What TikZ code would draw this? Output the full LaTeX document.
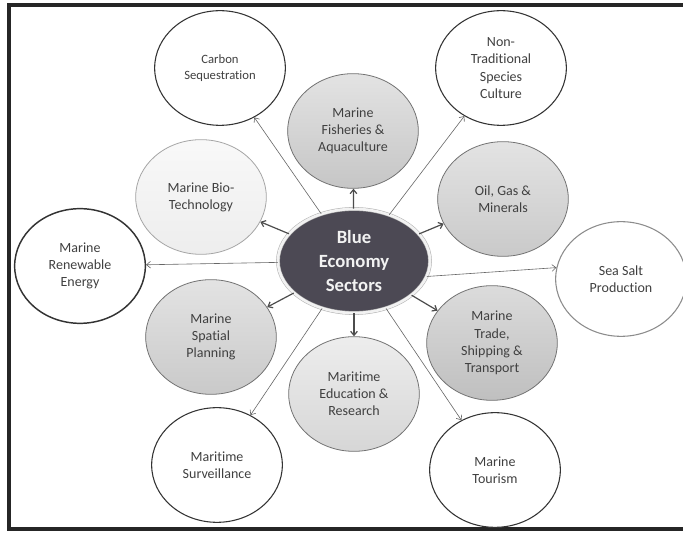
\documentclass[tikz,border=0pt]{standalone}
\usepackage{fontspec}
\setmainfont{Carlito}[Ligatures=NoCommon]
\usepackage{xcolor}
\usetikzlibrary{arrows.meta, shapes.geometric}

\definecolor{hubgray}{RGB}{76,73,84}

\begin{document}
\begin{tikzpicture}[
  x=0.75pt, y=-0.75pt,
  sector/.style={ellipse, minimum width=98pt, minimum height=86pt, inner sep=0pt,
                 align=center, font=\fontsize{10.5}{12.9}\selectfont, text=black!75},
  inring/.style={sector, draw=black!55, line width=0.6pt},
  outring/.style={sector, draw=black!80, line width=0.8pt, fill=white},
  hub/.style={ellipse, minimum width=114pt, minimum height=78pt, inner sep=0pt,
              align=center, fill=hubgray, draw=black!30, double=black!5,
              double distance=2pt, line width=0.4pt,
              font=\fontsize{14}{18}\selectfont\bfseries, text=black!5},
  arr/.style={-{Straight Barb[length=3pt, width=5pt]}, line width=0.9pt, black!70},
  arrlong/.style={-{Straight Barb[length=3pt, width=5pt]}, line width=0.45pt, black!60},
]
\useasboundingbox (0,0) rectangle (683,534);
\fill[white] (0,0) rectangle (683,534);

% frame (right side runs off the page)
\draw[line width=2.4pt, black!85] (9,5) rectangle (700,529);

\node[hub] (hub) at (354,261) {Blue\\Economy\\Sectors};

% inner ring of sectors
\node[inring, top color=gray!22, bottom color=gray!45] (fish)    at (353,131) {Marine\\Fisheries \&\\Aquaculture};
\node[inring, top color=gray!22, bottom color=gray!42] (oil)     at (503,199) {Oil, Gas \&\\Minerals};
\node[inring, top color=gray!28, bottom color=gray!50] (trade)   at (492,343) {Marine\\Trade,\\Shipping \&\\Transport};
\node[inring, top color=gray!14, bottom color=gray!32] (edu)     at (354,394) {Maritime\\Education \&\\Research};
\node[inring, top color=gray!22, bottom color=gray!42] (spatial) at (211,337) {Marine\\Spatial\\Planning};
\node[inring, draw=black!35, top color=gray!5, bottom color=gray!14] (biotech) at (201,197) {Marine Bio-\\Technology};

% outer ring of sectors
\node[outring, font=\fontsize{9.5}{11.5}\selectfont] (carbon) at (220,68) {Carbon\\Sequestration};
\node[outring] (nontrad) at (501,68)  {Non-\\Traditional\\Species\\Culture};
\node[outring, line width=1.1pt] (renew) at (80,266) {Marine\\Renewable\\Energy};
\node[outring, draw=black!45] (seasalt) at (621,279) {Sea Salt\\Production};
\node[outring] (surveil) at (217,465) {Maritime\\Surveillance};
\node[outring] (tourism) at (495,470) {Marine\\Tourism};

\foreach \n in {fish, oil, trade, edu, spatial, biotech}
  \draw[arr] (hub) -- (\n);

\foreach \n in {carbon, nontrad, renew, surveil, tourism}
  \draw[arrlong] (hub) -- (\n);
\draw[arrlong] (hub.-12) -- (seasalt.170);

\end{tikzpicture}
\end{document}
